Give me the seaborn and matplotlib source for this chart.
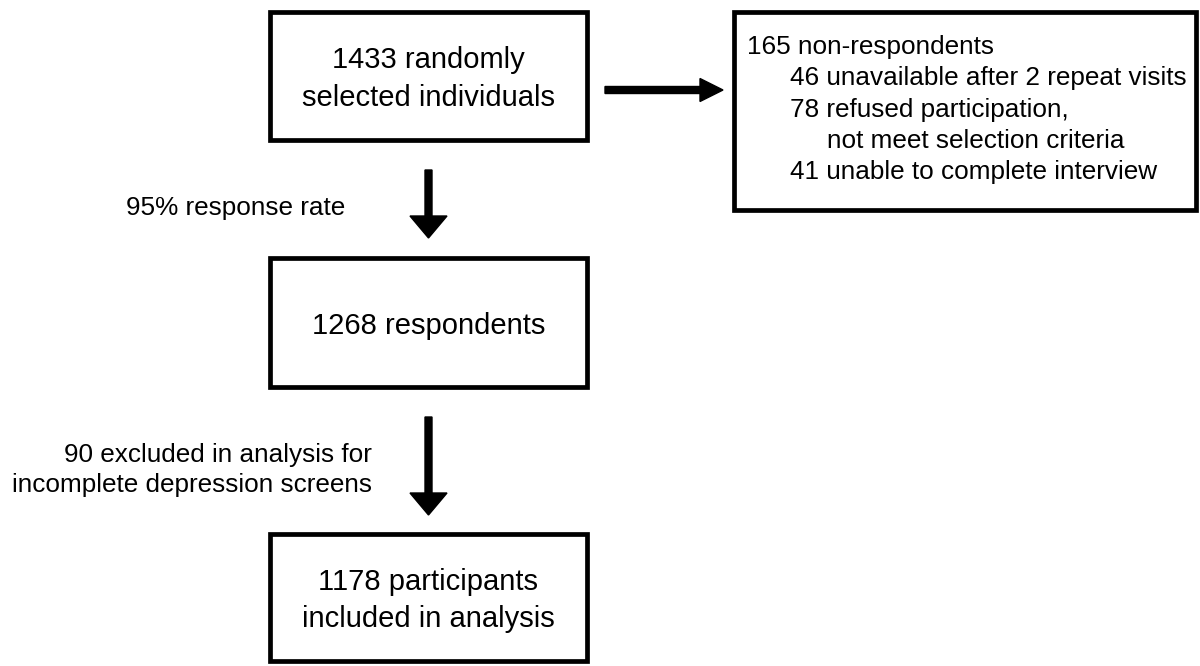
"""
Participant flow diagram: random selection -> respondents -> analysed.
Drawn on a pixel-space axes so box positions match the source figure.
"""
import matplotlib
matplotlib.use("Agg")
import matplotlib.pyplot as plt
import seaborn as sns
from matplotlib.patches import Rectangle

sns.set_theme(style="white")
plt.rcParams["font.family"] = ["Liberation Sans", "DejaVu Sans"]

# --- data -------------------------------------------------------------
main_labels = [
    ["1433 randomly", "selected individuals"],
    ["1268 respondents"],
    ["1178 participants", "included in analysis"],
]
step_notes = [
    ["95% response rate"],
    ["90 excluded in analysis for", "incomplete depression screens"],
]
nonresp_head = "165 non-respondents"
nonresp_lines = [
    ("46 unavailable after 2 repeat visits", 1),
    ("78 refused participation,", 1),
    ("not meet selection criteria", 2),
    ("41 unable to complete interview", 1),
]

# --- layout (pixel units, y down) --------------------------------------
W, H = 1200, 666
box_x = (270, 587)
box_y = [(12, 140), (258, 387), (534, 661)]
side_box = (734, 12, 1196, 210)
LW = 3.4
BIG, SMALL = 21, 18.8
DY = 3  # va="center" sits a little high versus the scanned text

fig = plt.figure(figsize=(W / 100, H / 100), dpi=100)
ax = fig.add_axes([0, 0, 1, 1])
ax.set_xlim(0, W)
ax.set_ylim(H, 0)
ax.axis("off")

cx = (box_x[0] + box_x[1]) / 2
for lines, (y0, y1) in zip(main_labels, box_y):
    ax.add_patch(Rectangle((box_x[0], y0), box_x[1] - box_x[0], y1 - y0,
                           fill=False, ec="black", lw=LW))
    ym = (y0 + y1) / 2 + DY
    step = 37
    start = ym - step * (len(lines) - 1) / 2
    for i, t in enumerate(lines):
        ax.text(cx, start + i * step, t, ha="center", va="center",
                fontsize=BIG, color="black")

# vertical arrows between the main boxes, with their side notes
arrow_spans = [(170, 238), (417, 515)]
note_pos = [(345, 205), (372, 467)]
for (a0, a1), notes, (nx, ny) in zip(arrow_spans, step_notes, note_pos):
    ax.arrow(cx, a0, 0, a1 - a0, width=7, head_width=37, head_length=22,
             length_includes_head=True, fc="black", ec="black")
    start = ny + DY - 30 * (len(notes) - 1) / 2
    for i, t in enumerate(notes):
        ax.text(nx, start + i * 30, t, ha="right", va="center",
                fontsize=SMALL, color="black")

# horizontal arrow to the non-respondent box
ax.arrow(605, 90, 118, 0, width=7, head_width=23, head_length=23,
         length_includes_head=True, fc="black", ec="black")

sx0, sy0, sx1, sy1 = side_box
ax.add_patch(Rectangle((sx0, sy0), sx1 - sx0, sy1 - sy0,
                       fill=False, ec="black", lw=LW))
ax.text(747, 45 + DY - 1, nonresp_head, ha="left", va="center",
        fontsize=SMALL, color="black")
indent = {1: 790, 2: 827}
for i, (t, lvl) in enumerate(nonresp_lines):
    ax.text(indent[lvl], 76 + DY - 1 + i * 31.5, t, ha="left", va="center",
            fontsize=SMALL, color="black")

fig.savefig("out.png", dpi=100)
